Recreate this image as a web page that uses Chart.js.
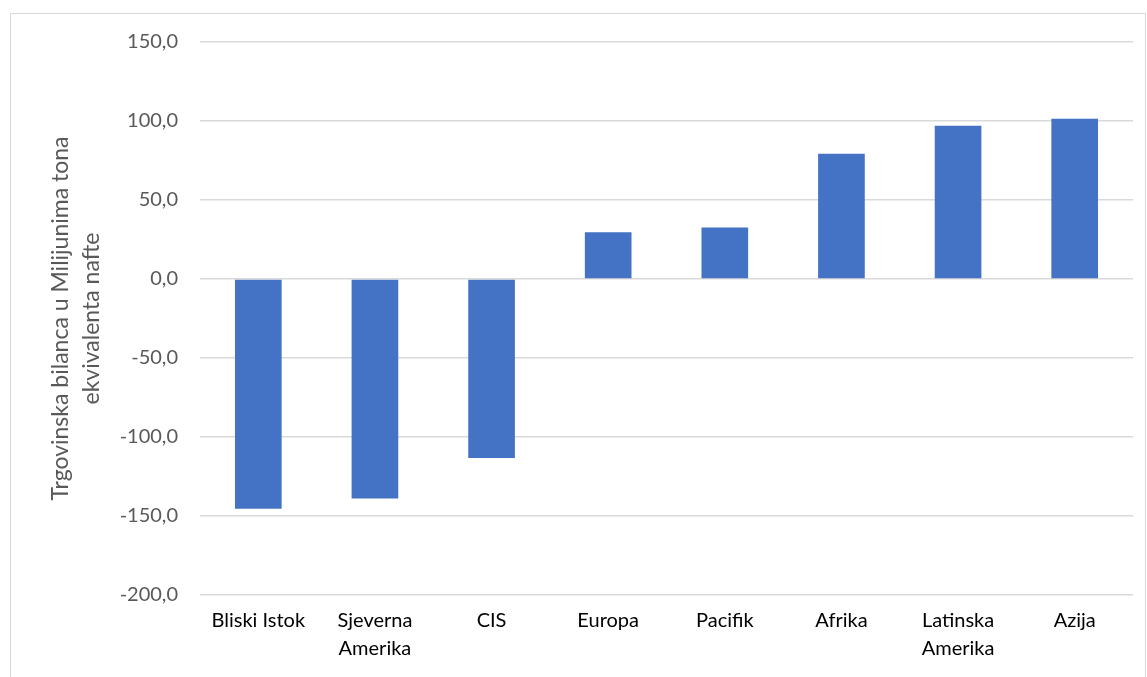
<!DOCTYPE html>
<html>
<head>
<meta charset="utf-8">
<script src="https://cdn.jsdelivr.net/npm/chart.js@4/dist/chart.umd.min.js"></script>
<style>
  html, body { margin: 0; padding: 0; background: #fff; }
  #wrap { position: relative; width: 1147px; height: 677px; }
</style>
</head>
<body>
<div id="wrap"><canvas id="myChart" width="1147" height="677"></canvas></div>
<script>
// Data
const regions = [
  'Bliski Istok',
  ['Sjeverna', 'Amerika'],
  'CIS',
  'Europa',
  'Pacifik',
  'Afrika',
  ['Latinska', 'Amerika'],
  'Azija'
];
const balance = [-145.4, -138.9, -113.3, 29.6, 32.6, 79.2, 97.0, 101.4];
const yTitle = ['Trgovinska bilanca u Milijunima tona', 'ekvivalenta nafte'];

// light grey frame around the whole chart
const frame = {
  id: 'frame',
  beforeDraw(chart) {
    const ctx = chart.ctx;
    ctx.save();
    ctx.strokeStyle = '#d9d9d9';
    ctx.lineWidth = 1;
    ctx.strokeRect(10.5, 13.5, 1135, 700);
    ctx.restore();
  }
};

const ctx = document.getElementById('myChart').getContext('2d');
new Chart(ctx, {
  type: 'bar',
  data: {
    labels: regions,
    datasets: [{
      data: balance,
      backgroundColor: '#4472c4',
      categoryPercentage: 1,
      barPercentage: 0.4
    }]
  },
  options: {
    responsive: false,
    animation: false,
    layout: { padding: { left: 10, top: 42, right: 14, bottom: 0 } },
    plugins: { legend: { display: false }, tooltip: { enabled: false } },
    scales: {
      x: {
        grid: { display: false, drawTicks: false },
        border: { display: false },
        ticks: {
          color: '#000',
          padding: 12,
          maxRotation: 0,
          font: { family: 'Lato', size: 20, lineHeight: 1.4 }
        },
        afterFit(scale) { scale.height = 82; }
      },
      y: {
        min: -200,
        max: 150,
        grid: { color: '#d9d9d9', lineWidth: 1.5, drawTicks: false },
        border: { display: false },
        ticks: {
          stepSize: 50,
          color: '#595959',
          padding: 22,
          font: { family: 'Lato', size: 20 },
          callback: v => v.toFixed(1).replace('.', ',')
        },
        title: {
          display: true,
          text: yTitle,
          color: '#595959',
          padding: { top: 35, bottom: 0 },
          font: { family: 'Lato', size: 23, lineHeight: 1.35 }
        },
        afterFit(scale) { scale.width = 190; }
      }
    }
  },
  plugins: [frame]
});
</script>
</body>
</html>
